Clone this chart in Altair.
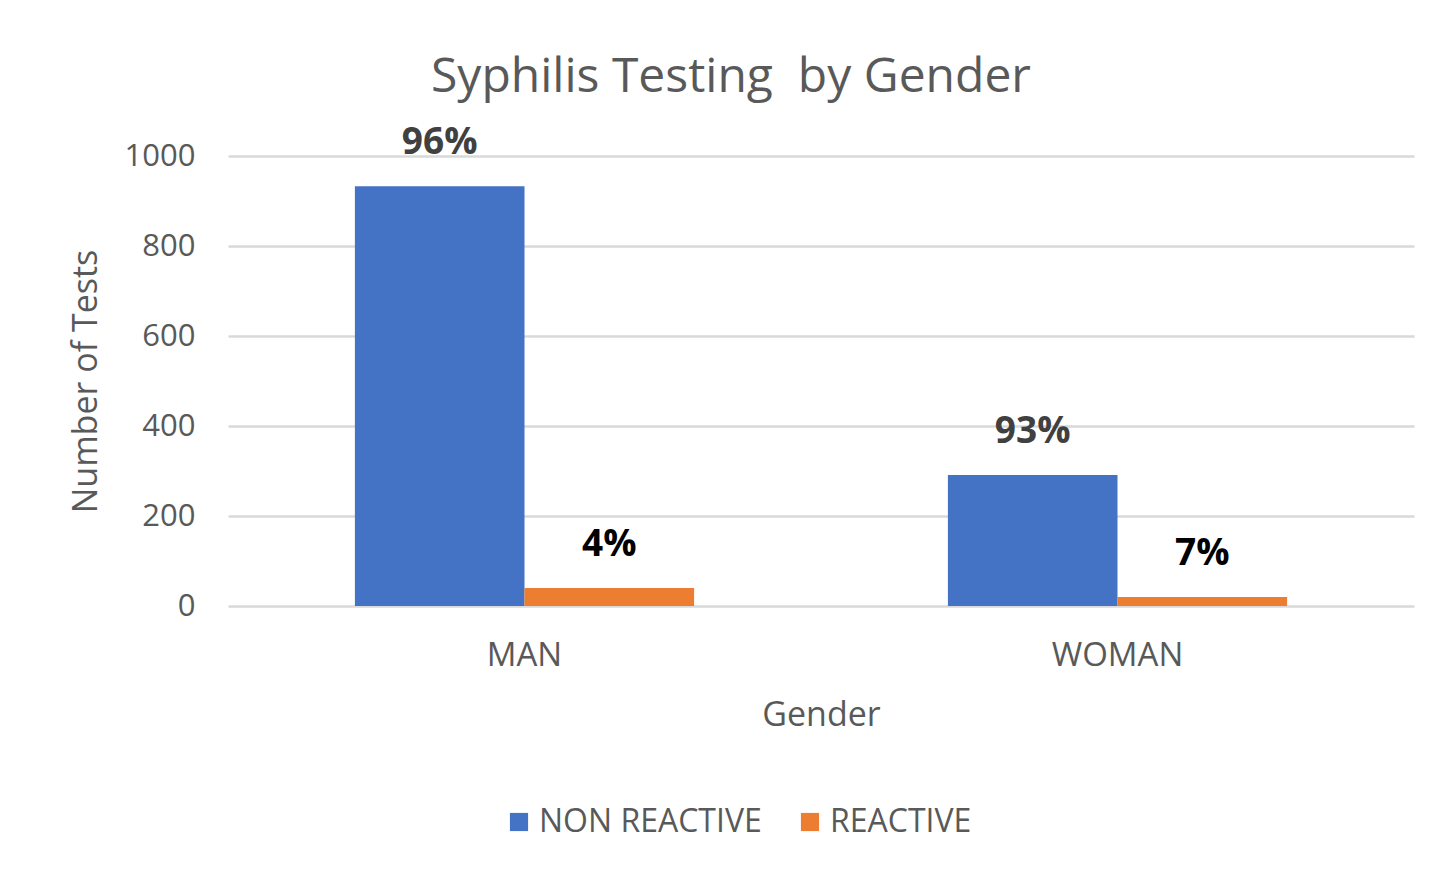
import altair as alt
import pandas as pd

genders = ["MAN", "WOMAN"]
series_names = ["NON REACTIVE", "REACTIVE"]
non_reactive = [933, 291]
reactive = [40, 20]
non_reactive_pct = ["96%", "93%"]
reactive_pct = ["4%", "7%"]

rows = []
for i, g in enumerate(genders):
    rows.append({"Gender": g, "Series": series_names[0], "Tests": non_reactive[i], "Label": non_reactive_pct[i]})
    rows.append({"Gender": g, "Series": series_names[1], "Tests": reactive[i], "Label": reactive_pct[i]})
df = pd.DataFrame(rows)

FONT = "Open Sans"
GREY = "#595959"

x_enc = alt.X("Gender:N", title="Gender",
              scale=alt.Scale(paddingInner=0.428, paddingOuter=0.214),
              axis=alt.Axis(labelAngle=0, ticks=False, domain=False, grid=False,
                            labelFontSize=33, labelColor=GREY, labelFont=FONT,
                            labelPadding=33, titleFontSize=34, titleColor=GREY,
                            titleFont=FONT, titleFontWeight="normal", titlePadding=26))
xoff = alt.XOffset("Series:N", scale=alt.Scale(paddingInner=0, paddingOuter=0))
y_enc = alt.Y("Tests:Q", title="Number of Tests",
              scale=alt.Scale(domain=[0, 1000]),
              axis=alt.Axis(values=[0, 200, 400, 600, 800, 1000], format="d",
                            domain=False, ticks=False,
                            gridColor="#d9d9d9", gridWidth=2.5,
                            labelFontSize=31, labelColor=GREY, labelFont=FONT, labelPadding=33,
                            titleFontSize=34, titleColor=GREY, titleFont=FONT,
                            titleFontWeight="normal", titlePadding=21))

bars = alt.Chart(df).mark_bar().encode(
    x=x_enc, xOffset=xoff, y=y_enc,
    color=alt.Color("Series:N", title=None,
                    scale=alt.Scale(domain=series_names, range=["#4472C4", "#ED7D31"]),
                    legend=alt.Legend(orient="none", legendX=275, legendY=650,
                                      direction="horizontal", symbolType="square",
                                      symbolSize=330, symbolStrokeWidth=0,
                                      labelFontSize=32, labelColor=GREY, labelFont=FONT,
                                      labelLimit=0, labelOffset=4, columnPadding=32,
                                      padding=0)),
)

labels = alt.Chart(df).mark_text(fontSize=37, fontWeight="bold", font=FONT, dy=-43,
                                  baseline="middle").encode(
    x=alt.X("Gender:N"), xOffset=xoff, y=alt.Y("Tests:Q"),
    text="Label:N",
    color=alt.condition(alt.datum.Series == "REACTIVE", alt.value("#000000"), alt.value("#404040")),
)

chart = alt.layer(bars, labels).properties(
    width=1186, height=450,
    view=alt.ViewBackground(strokeWidth=0, stroke="transparent"),
    title=alt.TitleParams("Syphilis Testing\u00a0 by Gender", fontSize=48, font=FONT,
                          fontWeight="normal", color=GREY, anchor="middle", dx=-90, offset=22),
    autosize=alt.AutoSizeParams(type="none"),
    padding={"left": 220, "top": 148, "right": 28, "bottom": 262},
).configure_view(strokeWidth=0, stroke="transparent").configure(background="white")

chart.save("out.html", embed_options={"renderer": "svg", "actions": False})
